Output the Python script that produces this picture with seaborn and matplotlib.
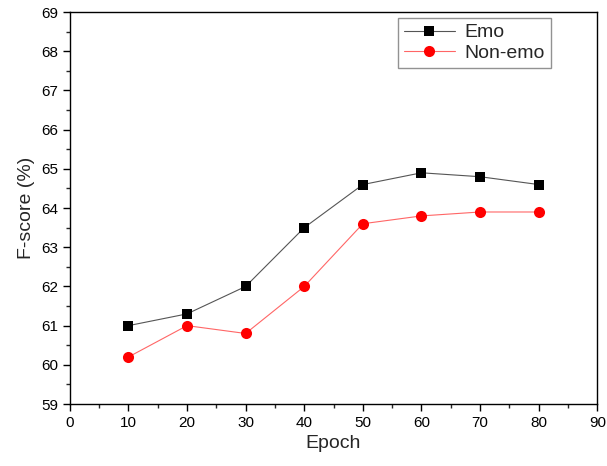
import pandas as pd
import matplotlib.pyplot as plt
import seaborn as sns
from matplotlib.ticker import MultipleLocator

# Datos
epochs = [10, 20, 30, 40, 50, 60, 70, 80]
emo = [61.0, 61.3, 62.0, 63.5, 64.6, 64.9, 64.8, 64.6]
non_emo = [60.2, 61.0, 60.8, 62.0, 63.6, 63.8, 63.9, 63.9]

df = pd.DataFrame({'Epoch': epochs * 2,
                   'F': emo + non_emo,
                   'Serie': ['Emo'] * len(epochs) + ['Non-emo'] * len(epochs)})

sns.set_style('white')
plt.rcParams['font.family'] = ['Liberation Sans', 'DejaVu Sans']

fig = plt.figure(figsize=(6.07, 4.66), dpi=100)
ax = fig.add_axes([0.115, 0.133, 0.869, 0.841])

sns.lineplot(data=df, x='Epoch', y='F', hue='Serie', style='Serie',
             palette={'Emo': 'black', 'Non-emo': 'red'},
             markers={'Emo': 's', 'Non-emo': 'o'}, dashes=False,
             markersize=8, linewidth=0.8, markeredgewidth=0, ax=ax)
for line in ax.lines:
    if line.get_color() == 'black':
        line.set_color('#555555')
        line.set_markerfacecolor('black')
        line.set_markersize(6.5)
    else:
        line.set_color('#ff6666')
        line.set_markerfacecolor('red')
        line.set_markersize(8)

ax.set_xlim(0, 90)
ax.set_ylim(59, 69)
ax.xaxis.set_major_locator(MultipleLocator(10))
ax.xaxis.set_minor_locator(MultipleLocator(5))
ax.yaxis.set_major_locator(MultipleLocator(1))
ax.yaxis.set_minor_locator(MultipleLocator(0.5))
ax.tick_params(which='major', direction='out', length=5, width=1, labelsize=11,
               bottom=True, left=True, colors='black')
ax.tick_params(which='minor', direction='out', length=3, width=1,
               bottom=True, left=True)
for s in ax.spines.values():
    s.set_color('black')
    s.set_linewidth(1)

ax.set_xlabel('Epoch', fontsize=14)
ax.set_ylabel('F-score (%)', fontsize=14)

handles, labels = ax.get_legend_handles_labels()
leg = ax.legend(handles, labels, loc='upper right', bbox_to_anchor=(0.93, 1.01),
                fontsize=14, frameon=True, fancybox=False, edgecolor='#777777',
                handlelength=2.6, borderpad=0.3, labelspacing=0.15, handletextpad=0.5)
leg.get_frame().set_linewidth(1)

fig.savefig('out.png', dpi=100)
